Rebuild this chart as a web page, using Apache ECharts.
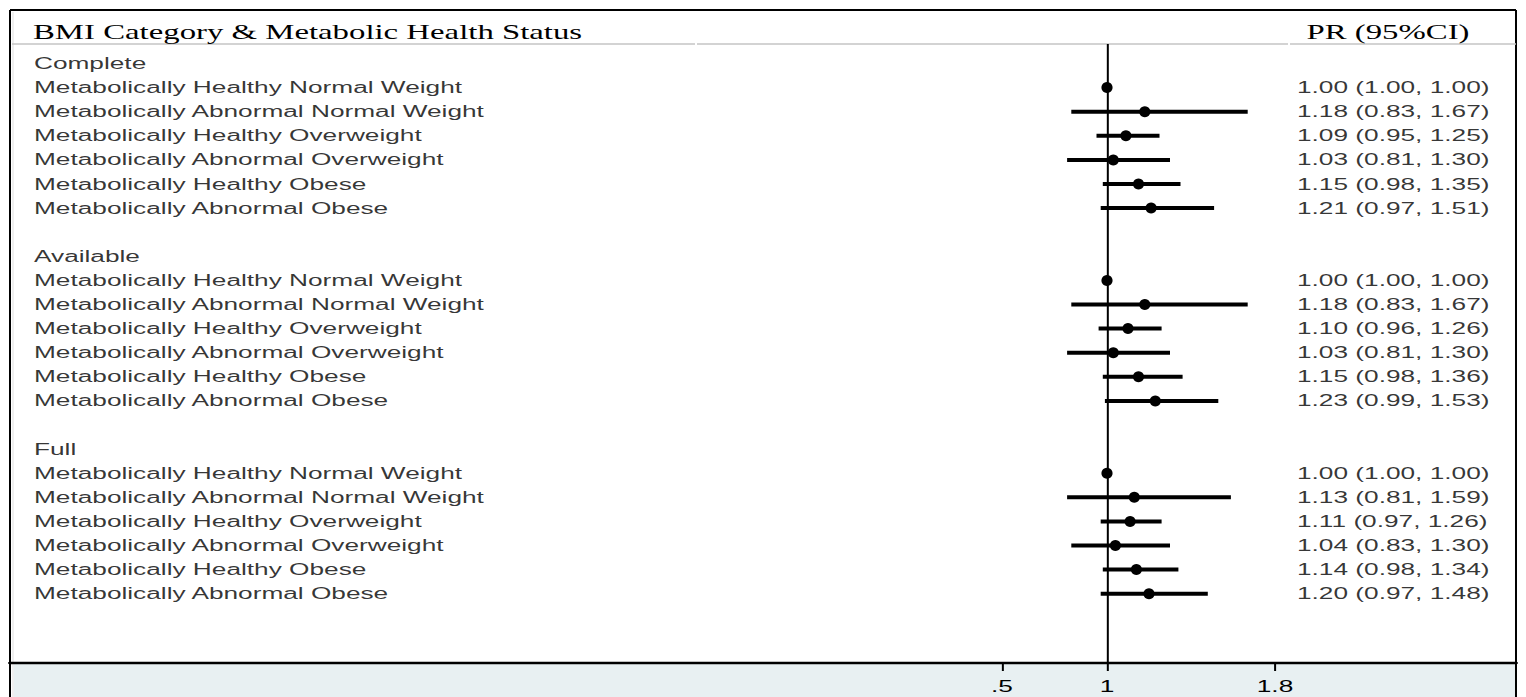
<!DOCTYPE html>
<html>
<head>
<meta charset="utf-8">
<script src="https://cdn.jsdelivr.net/npm/echarts/dist/echarts.min.js"></script>
<style>
  html, body { margin: 0; padding: 0; background: #fff; overflow: hidden; }
  #wrap { width: 1526px; height: 697px; overflow: hidden; position: relative; }
  #chart { height: 697px; transform-origin: 0 0; }
</style>
</head>
<body>
<div id="wrap"><div id="chart"></div></div>
<script>
// ---- data -------------------------------------------------------------
const groups = ['Complete', 'Available', 'Full'];
const categories = [
  'Metabolically Healthy Normal Weight',
  'Metabolically Abnormal Normal Weight',
  'Metabolically Healthy Overweight',
  'Metabolically Abnormal Overweight',
  'Metabolically Healthy Obese',
  'Metabolically Abnormal Obese'
];
const prComplete  = [1.00, 1.18, 1.09, 1.03, 1.15, 1.21];
const loComplete  = [1.00, 0.83, 0.95, 0.81, 0.98, 0.97];
const hiComplete  = [1.00, 1.67, 1.25, 1.30, 1.35, 1.51];
const prAvailable = [1.00, 1.18, 1.10, 1.03, 1.15, 1.23];
const loAvailable = [1.00, 0.83, 0.96, 0.81, 0.98, 0.99];
const hiAvailable = [1.00, 1.67, 1.26, 1.30, 1.36, 1.53];
const prFull      = [1.00, 1.13, 1.11, 1.04, 1.14, 1.20];
const loFull      = [1.00, 0.81, 0.97, 0.83, 0.98, 0.97];
const hiFull      = [1.00, 1.59, 1.26, 1.30, 1.34, 1.48];
const tickValues = [0.5, 1, 1.8];
const tickLabels = ['.5', '1', '1.8'];
const headerLeft = 'BMI Category & Metabolic Health Status';
const headerRight = 'PR (95%CI)';

// ---- layout -----------------------------------------------------------
// The plot is laid out on a narrower surface and widened horizontally.
const STRETCH = 1.64;
const FULL_W = 1526, FULL_H = 697;
const W = FULL_W / STRETCH;
const hx = x => x / STRETCH;              // widened px -> drawing px

const FRAME_L = 10, FRAME_R = 1516, FRAME_T = 10;
const HEAD_LINE_Y = 44, AXIS_Y = 663;
const ONE_PX = 1107, PX_PER_UNIT = 210;    // where PR = 1 sits, and scale
const toVal = x => 1 + (x - ONE_PX) / PX_PER_UNIT;
const X_MIN = toVal(FRAME_L), X_MAX = toVal(FRAME_R);
const LABEL_X = toVal(34);
const VALUE_X = toVal(1297);
const ROW0_Y = 63.5, ROW_H = 24.1;
const Y_MIN = (HEAD_LINE_Y - ROW0_Y) / ROW_H;
const Y_MAX = (AXIS_Y - ROW0_Y) / ROW_H;

const sets = [
  { pr: prComplete,  lo: loComplete,  hi: hiComplete },
  { pr: prAvailable, lo: loAvailable, hi: hiAvailable },
  { pr: prFull,      lo: loFull,      hi: hiFull }
];

const textRows = [], points = [], intervals = [], valueTexts = [];
let k = 0;
groups.forEach((g, gi) => {
  textRows.push({ value: [LABEL_X, k], name: g });
  k++;
  categories.forEach((c, ci) => {
    const s = sets[gi];
    textRows.push({ value: [LABEL_X, k], name: c });
    points.push([s.pr[ci], k]);
    intervals.push([s.lo[ci], s.hi[ci], k]);
    valueTexts.push({
      value: [VALUE_X, k],
      name: s.pr[ci].toFixed(2) + ' (' + s.lo[ci].toFixed(2) + ', ' + s.hi[ci].toFixed(2) + ')'
    });
    k++;
  });
  k++; // gap between blocks
});

const SANS = "'Liberation Sans', Arial, Helvetica, sans-serif";
const SERIF = "'Liberation Serif', 'Times New Roman', serif";

const el = document.getElementById('chart');
el.style.width = W + 'px';
el.style.transform = 'scaleX(' + STRETCH + ')';
const chart = echarts.init(el, null, { renderer: 'svg', width: W, height: FULL_H });

const textLabel = size => ({
  show: true,
  position: 'right',
  distance: 0,
  formatter: p => p.name,
  color: '#000',
  fontFamily: SANS,
  fontSize: size
});

chart.setOption({
  animation: false,
  backgroundColor: '#fff',
  grid: {
    left: hx(FRAME_L),
    right: W - hx(FRAME_R),
    top: HEAD_LINE_Y,
    bottom: FULL_H - AXIS_Y,
    containLabel: false
  },
  xAxis: {
    type: 'value',
    min: X_MIN,
    max: X_MAX,
    position: 'bottom',
    splitLine: { show: false },
    axisLine: { show: true, onZero: false, lineStyle: { color: '#000', width: 2.4 } },
    axisTick: {
      show: true,
      customValues: tickValues,
      length: 8,
      lineStyle: { color: '#000', width: 2 / STRETCH }
    },
    axisLabel: {
      show: true,
      customValues: tickValues,
      formatter: v => tickLabels[tickValues.indexOf(v)] ?? '',
      color: '#000',
      fontFamily: SANS,
      fontSize: 16,
      margin: 15
    }
  },
  yAxis: {
    type: 'value',
    inverse: true,
    min: Y_MIN,
    max: Y_MAX,
    show: false
  },
  graphic: [
    { type: 'rect', z: -100, silent: true,
      shape: { x: hx(14), y: AXIS_Y, width: hx(FRAME_R) - hx(14), height: FULL_H - AXIS_Y },
      style: { fill: '#e8f0f2' } },
    { type: 'line', silent: true,
      shape: { x1: hx(FRAME_L), y1: FRAME_T, x2: hx(FRAME_R), y2: FRAME_T },
      style: { stroke: '#000', lineWidth: 2 } },
    { type: 'line', silent: true,
      shape: { x1: hx(FRAME_L), y1: FRAME_T, x2: hx(FRAME_L), y2: FULL_H },
      style: { stroke: '#000', lineWidth: 2 / STRETCH } },
    { type: 'line', silent: true,
      shape: { x1: hx(FRAME_L + 3), y1: FRAME_T + 2, x2: hx(FRAME_L + 3), y2: FULL_H },
      style: { stroke: '#d8d8d8', lineWidth: 1 / STRETCH } },
    { type: 'line', silent: true,
      shape: { x1: hx(FRAME_R), y1: FRAME_T, x2: hx(FRAME_R), y2: FULL_H },
      style: { stroke: '#000', lineWidth: 2 / STRETCH } },
    { type: 'line', silent: true,
      shape: { x1: hx(12), y1: HEAD_LINE_Y, x2: hx(695), y2: HEAD_LINE_Y },
      style: { stroke: '#c4c4c4', lineWidth: 1.5 } },
    { type: 'line', silent: true,
      shape: { x1: hx(697), y1: HEAD_LINE_Y, x2: hx(1288), y2: HEAD_LINE_Y },
      style: { stroke: '#c4c4c4', lineWidth: 1.5 } },
    { type: 'line', silent: true,
      shape: { x1: hx(1290), y1: HEAD_LINE_Y, x2: hx(FRAME_R), y2: HEAD_LINE_Y },
      style: { stroke: '#c4c4c4', lineWidth: 1.5 } },
    { type: 'text', silent: true, x: hx(33), y: 32,
      style: { text: headerLeft, fill: '#000', font: '20px ' + SERIF, verticalAlign: 'middle', align: 'left' } },
    { type: 'text', silent: true, x: hx(1388), y: 32,
      style: { text: headerRight, fill: '#000', font: '20px ' + SERIF, verticalAlign: 'middle', align: 'center' } }
  ],
  series: [
    {
      name: 'CI',
      type: 'custom',
      data: intervals,
      renderItem: (params, api) => {
        const lo = api.value(0), hi = api.value(1), row = api.value(2);
        if (hi - lo <= 0) return null;
        const a = api.coord([lo, row]);
        const b = api.coord([hi, row]);
        return {
          type: 'line',
          shape: { x1: a[0], y1: a[1], x2: b[0], y2: b[1] },
          style: { stroke: '#000', lineWidth: 4 }
        };
      },
      z: 3
    },
    {
      name: 'PR',
      type: 'scatter',
      data: points,
      symbol: 'circle',
      symbolSize: [6.8, 11],
      itemStyle: { color: '#000', opacity: 1 },
      z: 4,
      markLine: {
        silent: true,
        symbol: 'none',
        label: { show: false },
        lineStyle: { color: '#000', width: 2 / STRETCH, type: 'solid', opacity: 1 },
        data: [{ xAxis: 1 }]
      }
    },
    {
      name: 'labels',
      type: 'scatter',
      data: textRows,
      symbolSize: 0,
      label: textLabel(16)
    },
    {
      name: 'values',
      type: 'scatter',
      data: valueTexts,
      symbolSize: 0,
      label: textLabel(16)
    }
  ]
});
</script>
</body>
</html>
